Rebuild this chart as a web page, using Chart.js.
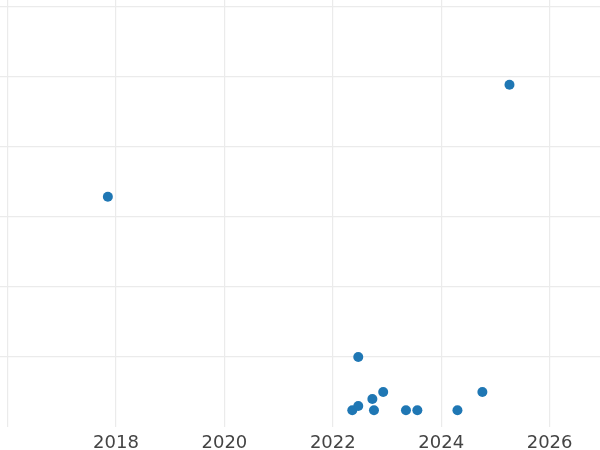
<!DOCTYPE html>
<html>
<head>
<meta charset="utf-8">
<script src="https://cdn.jsdelivr.net/npm/chart.js@4"></script>
<style>
  html, body { margin: 0; padding: 0; background: #fff; }
  canvas { display: block; }
</style>
</head>
<body>
<canvas id="grafico" width="600" height="450"></canvas>
<script>
// years (decimal) and values
const anos = [2017.85, 2025.26, 2022.47, 2022.36, 2022.47, 2022.73, 2022.76, 2022.93, 2023.35, 2023.56, 2024.30, 2024.76]
const valores = [329, 489, 100, 24, 30, 40, 24, 50, 24, 24, 24, 50]
const xTicks = [2016, 2018, 2020, 2022, 2024, 2026]
const yTicks = [100, 200, 300, 400, 500, 600]

const pontos = anos.map((a, i) => ({ x: a, y: valores[i] }))

const ctx = document.getElementById('grafico')

new Chart(ctx, {
  type: 'scatter',
  data: {
    datasets: [{
      data: pontos,
      backgroundColor: '#1f77b4',
      borderWidth: 0,
      pointRadius: 5,
      pointHoverRadius: 5
    }]
  },
  options: {
    responsive: false,
    animation: false,
    layout: { padding: 0, autoPadding: false },
    plugins: {
      legend: { display: false },
      tooltip: { enabled: false }
    },
    scales: {
      x: {
        type: 'linear',
        min: 2015.86,
        max: 2026.93,
        afterBuildTicks: (s) => { s.ticks = xTicks.map(v => ({ value: v })) },
        afterFit: (s) => { s.height = 23; s.paddingLeft = 0; s.paddingRight = 0 },
        border: { display: false },
        grid: { color: '#ebebeb', lineWidth: 1.2, drawTicks: false },
        ticks: {
          padding: 6,
          color: '#444',
          font: { family: 'DejaVu Sans', size: 18 },
          maxRotation: 0,
          callback: (v) => v === 2016 ? '' : String(v)
        }
      },
      y: {
        min: 0,
        max: 610,
        afterBuildTicks: (s) => { s.ticks = yTicks.map(v => ({ value: v })) },
        afterFit: (s) => { s.width = 0; s.paddingTop = 0; s.paddingBottom = 0 },
        border: { display: false },
        grid: { color: '#ebebeb', lineWidth: 1.2, drawTicks: false },
        ticks: { display: false }
      }
    }
  }
})
</script>
</body>
</html>
